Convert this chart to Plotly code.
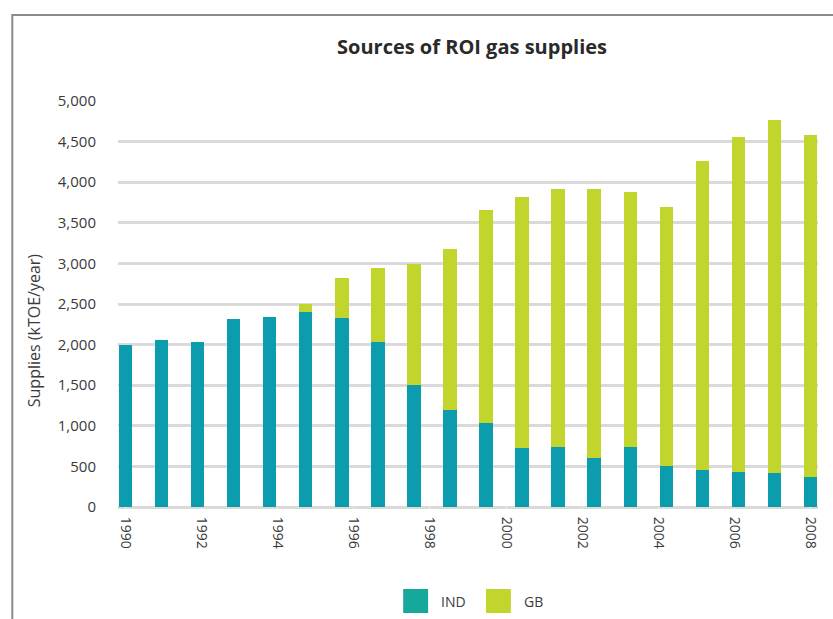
import numpy as np
import plotly.graph_objects as go

# Annual gas supplies (kTOE/year) by source
ind_supply = [1998, 2055, 2026, 2314, 2343, 2396, 2322, 2038, 1504, 1200,
              1040, 724, 744, 608, 744, 509, 460, 432, 416, 366]
total_supply = [1998, 2055, 2026, 2314, 2343, 2494, 2824, 2947, 2993, 3181,
                3662, 3819, 3917, 3917, 3880, 3695, 4258, 4559, 4763, 4579]
gb_supply = [t - i for t, i in zip(total_supply, ind_supply)]

year_labels = ["1990", "1992", "1994", "1996", "1998",
               "2000", "2002", "2004", "2006", "2008"]
y_ticks = [0, 500, 1000, 1500, 2000, 2500, 3000, 3500, 4000, 4500, 5000]

IND_COLOR = "#0B9DAE"
GB_COLOR = "#C2D52C"
FONT = "Open Sans"

W, H = 833, 619
ML, MR, MT, MB = 118, 13, 101, 112
PW, PH = W - ML - MR, H - MT - MB

def px(x):
    return (x - ML) / PW

def py(y):
    return (H - MB - y) / PH

positions = list(range(len(ind_supply)))

fig = go.Figure()
fig.add_trace(go.Bar(x=positions, y=ind_supply, name="IND",
                     marker=dict(color=IND_COLOR, line=dict(width=0)),
                     width=0.37))
fig.add_trace(go.Bar(x=positions, y=gb_supply, name="GB",
                     marker=dict(color=GB_COLOR, line=dict(width=0)),
                     width=0.37))

tick_pos = np.linspace(positions[0], positions[-1], len(year_labels))

fig.update_layout(
    width=W, height=H,
    margin=dict(l=ML, r=MR, t=MT, b=MB),
    barmode="stack",
    showlegend=False,
    plot_bgcolor="white", paper_bgcolor="white",
    font=dict(family=FONT, color="#3a3a3a"),
    xaxis=dict(range=[-0.21, len(positions) - 1 + 0.21],
               tickvals=tick_pos, ticktext=year_labels, tickangle=90,
               tickfont=dict(size=14, color="#3a3a3a"),
               showgrid=False, zeroline=False, showline=False,
               ticks="outside", ticklen=6, tickcolor="white"),
    yaxis=dict(range=[0, 5000], tickvals=y_ticks,
               ticktext=[f"{v:,}" for v in y_ticks],
               tickfont=dict(size=15, color="#3a3a3a"),
               showgrid=True, gridcolor="#DADADA", gridwidth=2.8,
               zeroline=True, zerolinecolor="#DADADA", zerolinewidth=2.8,
               showline=False, ticks="outside", ticklen=18, tickcolor="white"),
)

# Chart frame
fig.add_shape(type="rect", xref="paper", yref="paper",
              x0=px(12), x1=px(845), y0=py(640), y1=py(15),
              line=dict(color="#8A8A8A", width=2), fillcolor="rgba(0,0,0,0)",
              layer="below")

# Title
fig.add_annotation(text="<b>Sources of ROI gas supplies</b>", xref="paper", yref="paper",
                   x=px(473), y=py(46), showarrow=False,
                   font=dict(size=20, family=FONT, color="#2a2a2a"),
                   xanchor="center", yanchor="middle")

# Y axis title
fig.add_annotation(text="Supplies (kTOE/year)", xref="paper", yref="paper",
                   x=px(34), y=py(330), showarrow=False, textangle=-90,
                   font=dict(size=16, family=FONT, color="#3a3a3a"),
                   xanchor="center", yanchor="middle")

# Legend
legend_items = [("IND", "#17A89C", 404), ("GB", GB_COLOR, 487)]
for label, color, left in legend_items:
    fig.add_shape(type="rect", xref="paper", yref="paper",
                  x0=px(left), x1=px(left + 25), y0=py(613), y1=py(589),
                  line=dict(width=0), fillcolor=color)
    fig.add_annotation(text=label, xref="paper", yref="paper",
                       x=px(left + 36), y=py(601), showarrow=False,
                       font=dict(size=14, family=FONT, color="#3a3a3a"),
                       xanchor="left", yanchor="middle")

fig.write_html("out.html")
